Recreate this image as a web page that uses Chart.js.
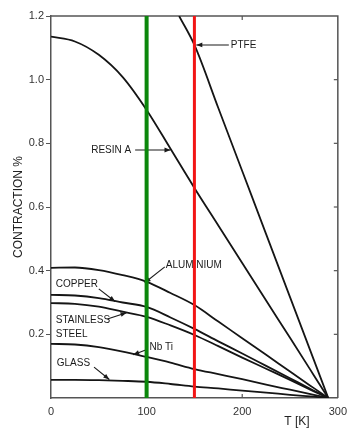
<!DOCTYPE html>
<html>
<head>
<meta charset="utf-8">
<script src="https://cdn.jsdelivr.net/npm/chart.js@4/dist/chart.umd.min.js"></script>
<style>
  html, body { margin: 0; padding: 0; background: #fff; }
  canvas { display: block; }
</style>
</head>
<body>
<canvas id="contraction" width="354" height="429"></canvas>
<script>
// temperatures (K) shared by most curves
const temps = [0, 25, 50, 75, 100, 125, 150, 175, 200, 225, 250, 275, 290]

// thermal contraction in % relative to room temperature
const resinA    = [1.135, 1.12, 1.078, 1.008, 0.905, 0.783, 0.66, 0.542, 0.424, 0.306, 0.189, 0.071, 0]
const aluminium = [0.409, 0.41, 0.402, 0.386, 0.365, 0.33, 0.292, 0.240, 0.188, 0.136, 0.083, 0.031, 0]
const copper    = [0.324, 0.322, 0.314, 0.300, 0.286, 0.253, 0.217, 0.178, 0.140, 0.101, 0.062, 0.023, 0]
const stainless = [0.298, 0.296, 0.287, 0.271, 0.255, 0.228, 0.198, 0.163, 0.127, 0.092, 0.057, 0.021, 0]
const nbti      = [0.170, 0.168, 0.160, 0.146, 0.129, 0.111, 0.091, 0.075, 0.059, 0.042, 0.026, 0.010, 0]
const glass     = [0.057, 0.057, 0.056, 0.054, 0.051, 0.044, 0.036, 0.030, 0.023, 0.017, 0.010, 0.004, 0]

// PTFE only enters the frame above ~134 K
const ptfeTemps = [134, 150, 175, 200, 225, 250, 275, 290]
const ptfe      = [1.2, 1.109, 0.911, 0.713, 0.515, 0.317, 0.119, 0]

// marker temperatures (green, red)
const greenT = 100
const redT = 150

const xMax = 300
const yMax = 1.2

// labels with arrows, in data coordinates
const notes = [
  { text: 'PTFE',      at: [188, 1.109], from: [186, 1.109], to: [152, 1.109] },
  { text: 'RESIN A',   at: [42, 0.779],  from: [88, 0.779],  to: [125, 0.779] },
  { text: 'ALUMINIUM', at: [120, 0.418], from: [119, 0.412], to: [98, 0.362] },
  { text: 'COPPER',    at: [5, 0.358],   from: [50, 0.343],  to: [67, 0.303] },
  { text: 'STAINLESS', at: [5, 0.245],   from: [59, 0.248],  to: [79, 0.268] },
  { text: 'STEEL',     at: [5, 0.201] },
  { text: 'Nb Ti',     at: [103, 0.160], from: [101, 0.153], to: [86, 0.136] },
  { text: 'GLASS',     at: [6, 0.11],    from: [45, 0.097],  to: [61, 0.058] }
]

function pts(xs, ys) {
  return xs.map((t, i) => ({ x: t, y: ys[i] }))
}

function curve(label, xs, ys) {
  return {
    label: label,
    data: pts(xs, ys),
    borderColor: '#151515',
    borderWidth: 1.8,
    pointRadius: 0,
    cubicInterpolationMode: 'monotone',
    fill: false
  }
}

function marker(label, t, color, width) {
  return {
    label: label,
    data: pts([t, t], [0, yMax]),
    borderColor: color,
    borderWidth: width,
    pointRadius: 0,
    fill: false
  }
}

function arrow(ctx, x1, y1, x2, y2) {
  ctx.beginPath()
  ctx.moveTo(x1, y1)
  ctx.lineTo(x2, y2)
  ctx.stroke()
  let ang = Math.atan2(y2 - y1, x2 - x1)
  ctx.beginPath()
  ctx.moveTo(x2, y2)
  ctx.lineTo(x2 - 6 * Math.cos(ang) + 2.4 * Math.sin(ang), y2 - 6 * Math.sin(ang) - 2.4 * Math.cos(ang))
  ctx.lineTo(x2 - 6 * Math.cos(ang) - 2.4 * Math.sin(ang), y2 - 6 * Math.sin(ang) + 2.4 * Math.cos(ang))
  ctx.closePath()
  ctx.fill()
}

const paperPlugin = {
  id: 'paper',
  beforeDatasetsDraw(chart) {
    const { ctx, chartArea: a, scales: { x, y } } = chart
    ctx.save()
    ctx.strokeStyle = '#555'
    ctx.lineWidth = 1.5
    // top and right of the frame
    ctx.beginPath()
    ctx.moveTo(a.left, a.top)
    ctx.lineTo(a.right, a.top)
    ctx.lineTo(a.right, a.bottom)
    ctx.stroke()
    // inner ticks on the right side
    ctx.lineWidth = 1.2
    y.ticks.forEach(t => {
      if (t.value <= 0 || t.value >= yMax) return
      let py = y.getPixelForValue(t.value)
      ctx.beginPath()
      ctx.moveTo(a.right - 4, py)
      ctx.lineTo(a.right, py)
      ctx.stroke()
    })
    // inner ticks at 200 K, top and bottom
    let px = x.getPixelForValue(200)
    ctx.beginPath()
    ctx.moveTo(px, a.top); ctx.lineTo(px, a.top + 4)
    ctx.moveTo(px, a.bottom); ctx.lineTo(px, a.bottom - 4)
    ctx.stroke()

    // curve labels
    ctx.fillStyle = '#1a1a1a'
    ctx.strokeStyle = '#1a1a1a'
    ctx.lineWidth = 1.1
    ctx.font = '10px "Liberation Sans", Arial, sans-serif'
    ctx.textBaseline = 'middle'
    ctx.textAlign = 'left'
    notes.forEach(n => {
      ctx.fillText(n.text, x.getPixelForValue(n.at[0]), y.getPixelForValue(n.at[1]))
      if (n.from) {
        arrow(ctx,
          x.getPixelForValue(n.from[0]), y.getPixelForValue(n.from[1]),
          x.getPixelForValue(n.to[0]), y.getPixelForValue(n.to[1]))
      }
    })

    // axis titles
    ctx.fillStyle = '#222'
    ctx.textAlign = 'center'
    ctx.font = '12px "Liberation Sans", Arial, sans-serif'
    ctx.fillText('T [K]', 297, 422)
    ctx.translate(19, (a.top + a.bottom) / 2)
    ctx.rotate(-Math.PI / 2)
    ctx.fillText('CONTRACTION %', 0, 0)
    ctx.restore()
  }
}

new Chart(document.getElementById('contraction'), {
  type: 'line',
  data: {
    datasets: [
      marker('100 K', greenT, '#0b870b', 4),
      marker('150 K', redT, '#f21515', 3),
      curve('PTFE', ptfeTemps, ptfe),
      curve('Resin A', temps, resinA),
      curve('Aluminium', temps, aluminium),
      curve('Copper', temps, copper),
      curve('Stainless steel', temps, stainless),
      curve('Nb Ti', temps, nbti),
      curve('Glass', temps, glass)
    ]
  },
  options: {
    responsive: false,
    animation: false,
    layout: { padding: { left: 0, top: 16, right: 11, bottom: 0 } },
    plugins: {
      legend: { display: false },
      tooltip: { enabled: false }
    },
    scales: {
      x: {
        type: 'linear',
        min: 0,
        max: xMax,
        afterFit: scale => { scale.height = 31 },
        ticks: {
          stepSize: 100,
          color: '#333',
          padding: 7,
          font: { family: '"Liberation Sans", Arial, sans-serif', size: 11 }
        },
        grid: { drawOnChartArea: false, drawTicks: false },
        border: { color: '#555', width: 1.5 }
      },
      y: {
        type: 'linear',
        min: 0,
        max: yMax,
        afterFit: scale => { scale.width = 51 },
        ticks: {
          stepSize: 0.2,
          color: '#333',
          padding: 2,
          font: { family: '"Liberation Sans", Arial, sans-serif', size: 11 },
          callback: v => v === 0 ? '' : v.toFixed(1)
        },
        grid: {
          drawOnChartArea: false,
          drawTicks: true,
          tickLength: 5,
          tickColor: ctx => ctx.tick && ctx.tick.value === 0 ? 'rgba(0,0,0,0)' : '#555'
        },
        border: { color: '#555', width: 1.5 }
      }
    }
  },
  plugins: [paperPlugin]
})
</script>
</body>
</html>
